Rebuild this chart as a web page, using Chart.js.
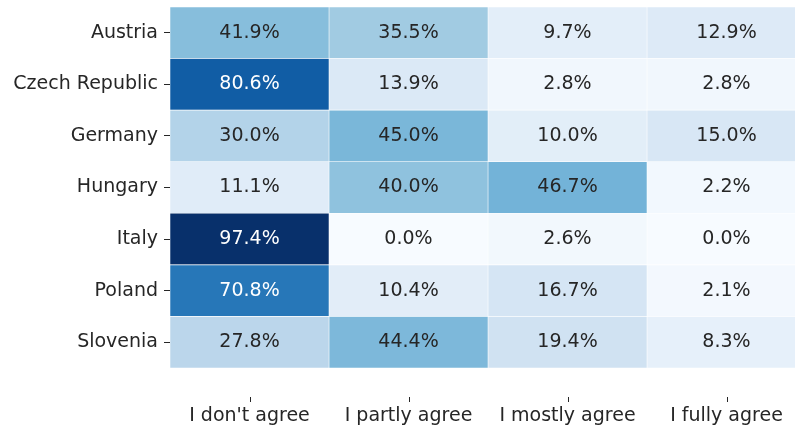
<!DOCTYPE html>
<html>
<head>
<meta charset="utf-8">
<script src="https://cdn.jsdelivr.net/npm/chart.js@4"></script>
<style>
  html, body { margin: 0; padding: 0; background: #fff; }
  #wrap { width: 795px; height: 430px; position: relative; }
</style>
</head>
<body>
<div id="wrap"><canvas id="heat"></canvas></div>
<script>
/* ── Datos ── */
const COUNTRIES = ['Austria', 'Czech Republic', 'Germany', 'Hungary', 'Italy', 'Poland', 'Slovenia'];
const RESPONSES = ["I don't agree", 'I partly agree', 'I mostly agree', 'I fully agree'];

const DONT_AGREE   = [41.9, 80.6, 30.0, 11.1, 97.4, 70.8, 27.8];
const PARTLY_AGREE = [35.5, 13.9, 45.0, 40.0, 0.0, 10.4, 44.4];
const MOSTLY_AGREE = [9.7, 2.8, 10.0, 46.7, 2.6, 16.7, 19.4];
const FULLY_AGREE  = [12.9, 2.8, 15.0, 2.2, 0.0, 2.1, 8.3];

const COLUMNS = [DONT_AGREE, PARTLY_AGREE, MOSTLY_AGREE, FULLY_AGREE];

const FONT = 'DejaVu Sans';
const SIZE = 19;
const DARK = '#262626';

/* ── Escala de color (Blues) ── */
const BLUES = [
  [247, 251, 255], [222, 235, 247], [198, 219, 239], [158, 202, 225],
  [107, 174, 214], [66, 146, 198], [33, 113, 181], [8, 81, 156], [8, 48, 107],
];
const VMAX = Math.max(...COLUMNS.flat());

function blues(v) {
  const t = Math.min(Math.max(v / VMAX, 0), 1) * (BLUES.length - 1);
  const i = Math.min(Math.floor(t), BLUES.length - 2);
  const f = t - i;
  return BLUES[i].map((a, k) => Math.round(a + (BLUES[i + 1][k] - a) * f));
}

function textColor(v) {
  const lin = blues(v).map(x => {
    x /= 255;
    return x <= 0.03928 ? x / 12.92 : Math.pow((x + 0.055) / 1.055, 2.4);
  });
  const lum = 0.2126 * lin[0] + 0.7152 * lin[1] + 0.0722 * lin[2];
  return lum < 0.408 ? '#ffffff' : DARK;
}

/* ── Etiquetas de celda ── */
const cellLabels = {
  id: 'cellLabels',
  afterDatasetsDraw(chart) {
    const ctx = chart.ctx;
    const area = chart.chartArea;
    ctx.save();
    ctx.beginPath();
    ctx.rect(area.left, area.top, area.right - area.left, area.bottom - area.top);
    ctx.clip();
    ctx.font = `${SIZE}px "${FONT}"`;
    ctx.textAlign = 'center';
    ctx.textBaseline = 'middle';
    chart.data.datasets.forEach((ds, j) => {
      chart.getDatasetMeta(j).data.forEach((el, i) => {
        const v = COLUMNS[j][i];
        ctx.fillStyle = textColor(v);
        ctx.fillText(v.toFixed(1) + '%', (el.x + el.base) / 2, el.y);
      });
    });
    ctx.restore();
  },
  afterDraw(chart) {
    // marcas del eje x, separadas del área
    const ctx = chart.ctx;
    const xs = chart.scales.x;
    ctx.save();
    ctx.strokeStyle = DARK;
    ctx.lineWidth = 1;
    xs.ticks.forEach((t, i) => {
      const px = Math.round(xs.getPixelForTick(i)) + 0.5;
      ctx.beginPath();
      ctx.moveTo(px, 397);
      ctx.lineTo(px, 402);
      ctx.stroke();
    });
    ctx.restore();
  },
};

function noPad(s) {
  s.paddingLeft = 0;
  s.paddingRight = 0;
  s.paddingTop = 0;
  s.paddingBottom = 0;
}

/* ── Gráfico ── */
function initHeat() {
  new Chart(document.getElementById('heat'), {
    type: 'bar',
    data: {
      labels: COUNTRIES,
      datasets: COLUMNS.map((col, j) => ({
        label: RESPONSES[j],
        data: col.map(() => 1),
        backgroundColor: col.map(v => `rgb(${blues(v).join(',')})`),
        borderColor: '#ffffff',
        borderWidth: 0.6,
        borderSkipped: false,
        barPercentage: 1,
        categoryPercentage: 1,
      })),
    },
    options: {
      indexAxis: 'y',
      responsive: true,
      maintainAspectRatio: false,
      animation: false,
      layout: { padding: { top: 7, right: 0, bottom: 0, left: 0 } },
      plugins: { legend: { display: false }, tooltip: { enabled: false } },
      scales: {
        x: {
          type: 'linear',
          stacked: true,
          min: 0,
          max: 625 / 159,
          afterBuildTicks: s => { s.ticks = [0.5, 1.5, 2.5, 3.5].map(v => ({ value: v })); },
          afterFit: s => { s.height = 62; noPad(s); },
          ticks: {
            padding: 37,
            color: DARK,
            font: { family: FONT, size: SIZE },
            callback: (v, i) => RESPONSES[i],
          },
          grid: { display: false, drawTicks: false },
          border: { display: false },
        },
        y: {
          stacked: true,
          afterFit: s => { s.width = 170; noPad(s); },
          ticks: {
            padding: 6,
            color: DARK,
            font: { family: FONT, size: SIZE },
          },
          grid: {
            offset: false,
            drawOnChartArea: false,
            tickLength: 6,
            tickColor: DARK,
            lineWidth: 1,
          },
          border: { display: false },
        },
      },
    },
    plugins: [cellLabels],
  });
}

initHeat();
</script>
</body>
</html>
